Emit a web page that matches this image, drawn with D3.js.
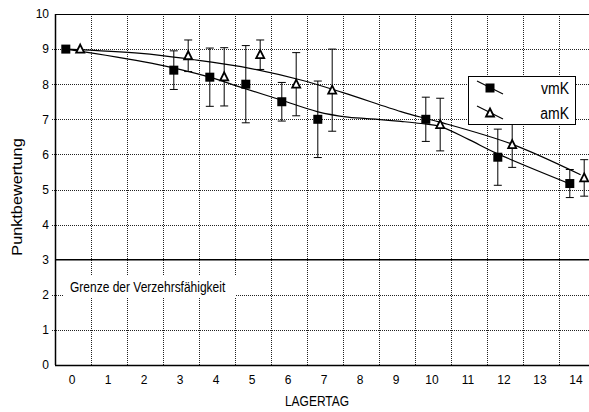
<!DOCTYPE html>
<html>
<head>
<meta charset="utf-8">
<script src="https://cdn.jsdelivr.net/npm/d3@7"></script>
<style>
html,body{margin:0;padding:0;background:#fff;}
svg{display:block;font-family:"Liberation Sans",Arial,sans-serif;}
</style>
</head>
<body>
<svg id="chart" width="589" height="412"></svg>
<script>
// ---- data ----
const days = [0, 3, 4, 5, 6, 7, 10, 12, 14];
const vmK = [9.0, 8.4, 8.2, 8.0, 7.5, 7.0, 7.0, 5.92, 5.17];
const vmKErr = [0, 0.55, 0.83, 1.1, 0.55, 1.09, 0.63, 0.8, 0.4];
const amK = [9.0, 8.81, 8.21, 8.84, 8.0, 7.83, 6.85, 6.28, 5.33];
const amKErr = [0, 0.45, 0.83, 0.42, 0.9, 1.17, 0.75, 0.65, 0.52];
// trend lines
const vmKTrendX = [-0.2, 2.17, 3.8, 4.67, 5.78, 6.78, 7.64, 8.46, 9.11, 9.67, 10.19, 11.0, 11.77, 13.76];
const vmKTrendY = [9.0, 8.6, 8.2, 7.91, 7.55, 7.22, 7.06, 7.0, 6.94, 6.88, 6.8, 6.42, 6.03, 5.18];
const amKTrendX = [-0.2, 1.89, 3.28, 4.67, 6.33, 7.5, 9.11, 9.78, 10.19, 12.17, 14.1];
const amKTrendY = [9.0, 8.88, 8.71, 8.5, 8.12, 7.76, 7.22, 7.03, 6.92, 6.3, 5.42];
const xTicks = d3.range(0, 15);
const yTicks = d3.range(0, 11);
const limitValue = 3;
const limitLabel = "Grenze der Verzehrsfähigkeit";
const seriesNames = ["vmK", "amK"];
const xTitle = "LAGERTAG";
const yTitle = "Punktbewertung";

// ---- layout ----
const svg = d3.select("#chart");
const x = d3.scaleLinear().domain([-0.5, 14.5]).range([55, 595]);
const y = d3.scaleLinear().domain([0, 10]).range([365, 14]);
const pL = x.range()[0], pR = x.range()[1];
const pT = y.range()[1], pB = y.range()[0];
const STRETCH = 1.16;

// grid
const grid = svg.append("g");
grid.selectAll("line.h").data(yTicks.filter(v => v > 0 && v < 10 && v !== limitValue))
  .join("line")
  .attr("x1", pL - 3).attr("x2", pR)
  .attr("y1", d => Math.round(y(d)) + 0.5).attr("y2", d => Math.round(y(d)) + 0.5)
  .attr("stroke", "#222").attr("stroke-dasharray", "1,1").attr("stroke-width", 1);
grid.selectAll("line.v").data(xTicks.slice(1))
  .join("line")
  .attr("x1", d => Math.round(x(d - 0.5)) + 0.5).attr("x2", d => Math.round(x(d - 0.5)) + 0.5)
  .attr("y1", pT).attr("y2", pB)
  .attr("stroke", "#222").attr("stroke-dasharray", "1,1").attr("stroke-width", 1);

// frame
svg.append("line").attr("x1", pL).attr("x2", pR).attr("y1", Math.round(pT)+0.5).attr("y2", Math.round(pT)+0.5).attr("stroke", "#000");
svg.append("line").attr("x1", pL).attr("x2", pR).attr("y1", Math.round(pB)+0.5).attr("y2", Math.round(pB)+0.5).attr("stroke", "#000").attr("stroke-width", 1.5);
svg.append("line").attr("x1", pL+0.5).attr("x2", pL+0.5).attr("y1", pT).attr("y2", pB).attr("stroke", "#000").attr("stroke-width", 1.5);
// limit line
svg.append("line").attr("x1", pL).attr("x2", pR)
  .attr("y1", y(limitValue)).attr("y2", y(limitValue))
  .attr("stroke", "#000").attr("stroke-width", 1.5);

// limit label with white background
svg.append("rect").attr("x", 63).attr("y", 275).attr("width", 173).attr("height", 22).attr("fill", "#fff");
svg.append("text").attr("transform", `translate(70,292) scale(1,${STRETCH})`)
  .attr("font-size", 12).attr("fill", "#000").text(limitLabel);

// axes labels
svg.append("g").selectAll("text").data(yTicks).join("text")
  .attr("x", pL - 6).attr("y", d => y(d)).attr("dy", "0.36em")
  .attr("text-anchor", "end").attr("font-size", 12).text(d => d);
svg.append("g").selectAll("text").data(xTicks).join("text")
  .attr("x", d => x(d) - 1).attr("y", 383.5)
  .attr("text-anchor", "middle").attr("font-size", 12).text(d => d);
svg.append("text").attr("transform", `translate(317,406) scale(1,${STRETCH})`).attr("text-anchor", "middle")
  .attr("font-size", 12).text(xTitle);
svg.append("text").attr("transform", `translate(22,197) rotate(-90) scale(${STRETCH},1)`)
  .attr("text-anchor", "middle").attr("font-size", 14).text(yTitle);

// trend lines
const line = d3.line().x(d => x(d[0])).y(d => y(d[1])).curve(d3.curveCatmullRom.alpha(0.5));
svg.append("path").datum(vmKTrendX.map((v, i) => [v, vmKTrendY[i]]))
  .attr("d", line).attr("fill", "none").attr("stroke", "#000").attr("stroke-width", 1.2);
svg.append("path").datum(amKTrendX.map((v, i) => [v, amKTrendY[i]]))
  .attr("d", line).attr("fill", "none").attr("stroke", "#000").attr("stroke-width", 1.2);

const offV = -0.2, offA = 0.2;
function errorBars(vals, errs, off) {
  const g = svg.append("g").attr("stroke", "#000").attr("stroke-width", 1);
  days.forEach((d, i) => {
    if (!errs[i]) return;
    const cx = x(d + off);
    g.append("line").attr("x1", cx).attr("x2", cx).attr("y1", y(vals[i] + errs[i])).attr("y2", y(vals[i] - errs[i]));
    [vals[i] + errs[i], vals[i] - errs[i]].forEach(v => {
      g.append("line").attr("x1", cx - 4).attr("x2", cx + 4).attr("y1", y(v)).attr("y2", y(v));
    });
  });
}
errorBars(vmK, vmKErr, offV);
errorBars(amK, amKErr, offA);

const triPath = "M0,-4.5L4,3.5L-4,3.5Z";
svg.append("g").selectAll("rect").data(days).join("rect")
  .attr("x", (d) => x(d + offV) - 4.5).attr("y", (d, i) => y(vmK[i]) - 4.5)
  .attr("width", 9).attr("height", 9).attr("fill", "#000");
svg.append("g").selectAll("path").data(days).join("path")
  .attr("transform", (d, i) => `translate(${x(d + offA)},${y(amK[i])})`)
  .attr("d", triPath).attr("fill", "#fff").attr("stroke", "#000").attr("stroke-width", 1.8);

// legend
const lg = svg.append("g");
lg.append("rect").attr("x", 468.5).attr("y", 76.5).attr("width", 107).attr("height", 48)
  .attr("fill", "#fff").attr("stroke", "#000").attr("stroke-width", 1);
const legY = [88, 113];
seriesNames.forEach((name, i) => {
  const cy = legY[i];
  lg.append("line").attr("x1", 477).attr("x2", 503).attr("y1", cy - 7).attr("y2", cy + 6)
    .attr("stroke", "#000").attr("stroke-width", 1.2);
  if (i === 0) {
    lg.append("rect").attr("x", 490 - 4.5).attr("y", cy - 4.5).attr("width", 9).attr("height", 9).attr("fill", "#000");
  } else {
    lg.append("path").attr("transform", `translate(490,${cy})`).attr("d", triPath)
      .attr("fill", "#fff").attr("stroke", "#000").attr("stroke-width", 1.8);
  }
  lg.append("text").attr("transform", `translate(569,${cy + 5.5}) scale(1,${STRETCH})`).attr("text-anchor", "end")
    .attr("font-size", 14).text(name);
});
</script>
</body>
</html>
